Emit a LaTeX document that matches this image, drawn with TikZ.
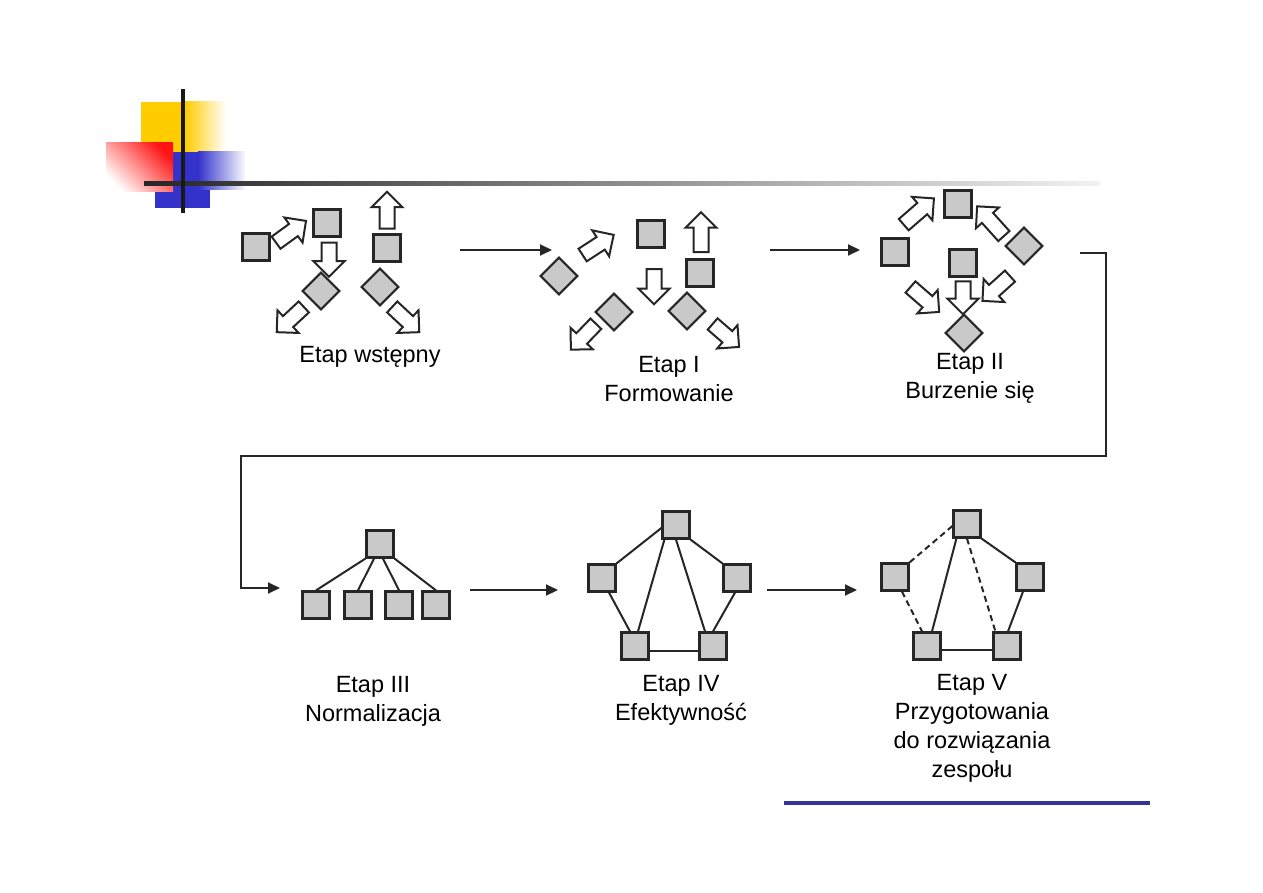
\documentclass[tikz,border=0pt]{standalone}
\usepackage{fontspec}
\setmainfont{Liberation Sans}
\usetikzlibrary{arrows.meta,shapes.arrows,positioning}
\definecolor{slideyellow}{RGB}{255,204,0}
\definecolor{slideblue}{RGB}{51,51,204}
\definecolor{slidered}{RGB}{255,20,20}
\definecolor{slideline}{RGB}{51,51,153}

\begin{document}
\begin{tikzpicture}[x=1pt,y=-1pt]
\tikzset{
  box/.style={draw=black!85,fill=gray!42,line width=2.2pt,minimum size=27pt,inner sep=0pt},
  diam/.style={box,minimum size=26pt,rotate=45},
  blockarrow/.style={single arrow,draw=black!85,fill=white,line width=2pt,inner sep=6.5pt,
    single arrow head extend=8pt,minimum height=#1,anchor=center},
  blockarrow/.default=37pt,
  flow/.style={draw=black!85,line width=2pt,-{Triangle[length=12pt,width=11pt]}},
  link/.style={draw=black!85,line width=2pt},
  weak/.style={link,dash pattern=on 6pt off 4pt},
  caption/.style={align=center,font=\fontsize{23.5}{29}\selectfont,inner sep=0pt}
}
\useasboundingbox (0,0) rectangle (1263,893);
% slide decoration
\fill[slideyellow] (141,102) rectangle (186,152);
\shade[left color=slideyellow,right color=white] (185,102) rectangle (226,152);
\fill[slideblue] (155,152) rectangle (210,208);
\shade[left color=slideblue,right color=white] (198,152) rectangle (246,190);
\shade[top color=slidered,bottom color=white,shading angle=-45] (106,143) rectangle (173,192);
\shade[left color=black!85,right color=black!5] (144,182) rectangle (1100,186);
\fill[black!90] (181,89) rectangle (185,213);
\fill[slideline] (784,801) rectangle (1150,805);

% Etap wstepny
\node[box] (n_a1) at (256,247) {};
\node[box] (n_a2) at (327,223) {};
\node[box] (n_a3) at (387,248) {};
\node[diam] (n_a4) at (321,291) {};
\node[diam] (n_a5) at (380,287) {};
\node[blockarrow,rotate=36] (n_pa1) at (288,234) {};
\node[blockarrow=34pt,rotate=-90] (n_pa2) at (329,256) {};
\node[blockarrow,rotate=90] (n_pa3) at (387,214) {};
\node[blockarrow,rotate=223] (n_pa4) at (293,317) {};
\node[blockarrow,rotate=-43] (n_pa5) at (403,317) {};
\node[caption] (n_la) at (370,357) {Etap wstępny};

% Etap I
\node[diam] (n_b1) at (559,276) {};
\node[box] (n_b2) at (651,234) {};
\node[box] (n_b3) at (700,273) {};
\node[diam] (n_b4) at (614,312) {};
\node[diam] (n_b5) at (687,311) {};
\node[blockarrow,rotate=33] (n_pb1) at (595,247) {};
\node[blockarrow=40pt,rotate=90] (n_pb2) at (701,236) {};
\node[blockarrow=35pt,rotate=-90] (n_pb3) at (654,283) {};
\node[blockarrow=36pt,rotate=226] (n_pb4) at (586,334) {};
\node[blockarrow=35pt,rotate=-41] (n_pb5) at (723,333) {};
\node[caption] (n_lb) at (669,379) {Etap I\\Formowanie};

% Etap II
\node[box] (n_c1) at (958,204) {};
\node[diam] (n_c2) at (1024,246) {};
\node[box] (n_c3) at (895,252) {};
\node[box] (n_c4) at (963,263) {};
\node[diam] (n_c5) at (964,333) {};
\node[blockarrow=40pt,rotate=41] (n_pc1) at (916,214) {};
\node[blockarrow=40pt,rotate=132] (n_pc2) at (993,224) {};
\node[blockarrow=38pt,rotate=-41] (n_pc3) at (922,297) {};
\node[blockarrow=33pt,rotate=-90] (n_pc4) at (963,294) {};
\node[blockarrow,rotate=222] (n_pc5) at (999,286) {};
\node[caption] (n_lc) at (970,378) {Etap II\\Burzenie się};

% Etap III
\node[box] (n_d0) at (380,544) {};
\node[box] (n_d1) at (316,605) {};
\node[box] (n_d2) at (358,605) {};
\node[box] (n_d3) at (399,605) {};
\node[box] (n_d4) at (436,605) {};
\draw[link] (n_d0.south west) -- (n_d1.north);
\draw[link] ([xshift=-6pt]n_d0.south) -- (n_d2.north);
\draw[link] ([xshift=3pt]n_d0.south) -- (n_d3.north);
\draw[link] (n_d0.south east) -- (n_d4.north);
\node[caption] (n_ld) at (373,701) {Etap III\\Normalizacja};

% Etap IV
\node[box] (n_e1) at (676,525) {};
\node[box] (n_e2) at (602,578) {};
\node[box] (n_e3) at (737,578) {};
\node[box] (n_e4) at (635,646) {};
\node[box] (n_e5) at (713,646) {};
\draw[link] ([yshift=-3pt]n_e1.west) -- (n_e2.north east);
\draw[link] ([xshift=3pt]n_e1.south west) -- ([xshift=3pt]n_e4.north);
\draw[link] (n_e1.south) -- ([xshift=-8pt]n_e5.north);
\draw[link] (n_e1.south east) -- (n_e3.north west);
\draw[link] ([xshift=7pt]n_e2.south) -- ([xshift=-5pt]n_e4.north);
\draw[link] ([xshift=-2pt]n_e3.south) -- (n_e5.north);
\draw[link] ([yshift=-5pt]n_e4.east) -- ([yshift=-5pt]n_e5.west);
\node[caption] (n_le) at (681,700) {Etap IV\\Efektywność};

% Etap V
\node[box] (n_f1) at (967,524) {};
\node[box] (n_f2) at (895,577) {};
\node[box] (n_f3) at (1030,577) {};
\node[box] (n_f4) at (927,646) {};
\node[box] (n_f5) at (1007,646) {};
\draw[weak] ([yshift=-2pt]n_f1.west) -- (n_f2.north east);
\draw[link] ([xshift=4pt]n_f1.south west) -- ([xshift=5pt]n_f4.north);
\draw[weak] (n_f1.south) -- ([xshift=3pt]n_f5.north west);
\draw[link] (n_f1.south east) -- (n_f3.north west);
\draw[weak] ([xshift=7pt]n_f2.south) -- ([xshift=-5pt]n_f4.north);
\draw[link] ([xshift=-7pt]n_f3.south) -- ([xshift=1pt]n_f5.north);
\draw[link] ([yshift=-4pt]n_f4.east) -- ([yshift=-4pt]n_f5.west);
\node[caption] (n_lf) at (972,728) {Etap V\\Przygotowania\\do rozwiązania\\zespołu};

% flow between stages
\coordinate (c_aout) at (460,250);
\coordinate (c_bin) at (552,250);
\coordinate (c_bout) at (770,250);
\coordinate (c_cin) at (860,250);
\coordinate (c_cout) at (1080,253);
\coordinate (c_turnA) at (1106,456);
\coordinate (c_turnB) at (241,456);
\coordinate (c_din) at (280,588);
\coordinate (c_dout) at (470,590);
\coordinate (c_ein) at (558,590);
\coordinate (c_eout) at (767,590);
\coordinate (c_fin) at (857,590);
\draw[flow] (c_aout) -- (c_bin);
\draw[flow] (c_bout) -- (c_cin);
\draw[flow] (c_cout) -| (c_turnA) -- (c_turnB) |- (c_din);
\draw[flow] (c_dout) -- (c_ein);
\draw[flow] (c_eout) -- (c_fin);
\end{tikzpicture}
\end{document}
